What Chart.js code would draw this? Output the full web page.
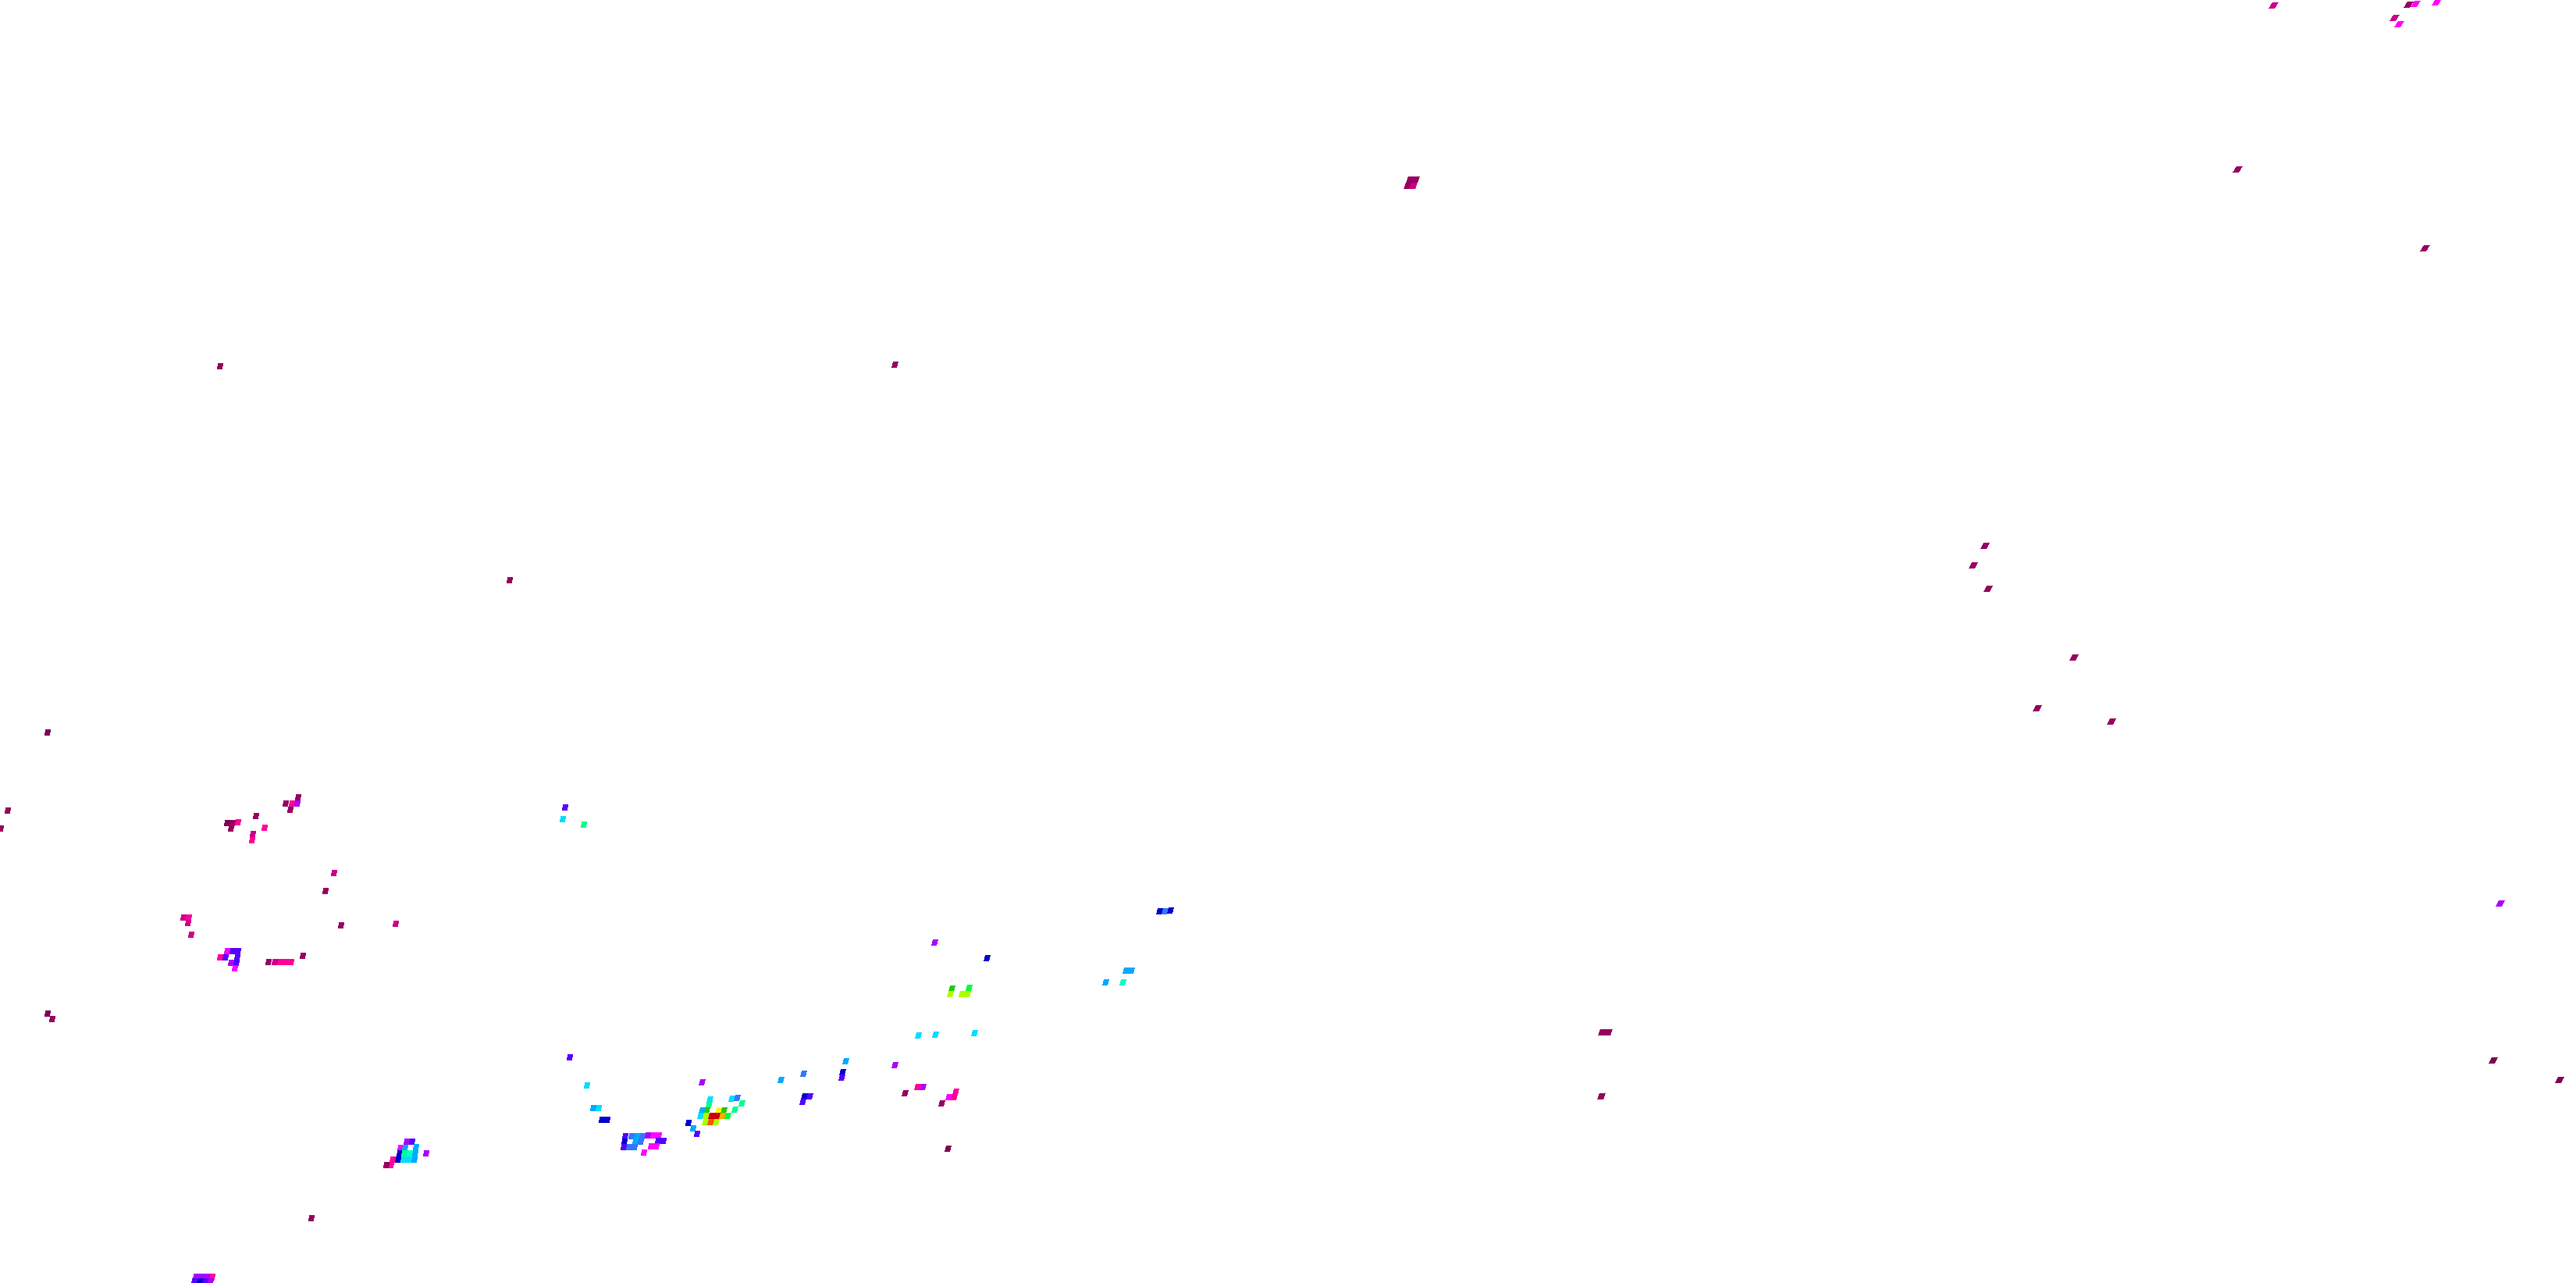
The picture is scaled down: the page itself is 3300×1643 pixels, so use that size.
<!DOCTYPE html>
<html>
<head>
<meta charset="utf-8">
<style>
  html, body { margin: 0; padding: 0; background: #fff; overflow: hidden; }
  canvas { display: block; }
</style>
<script src="https://cdn.jsdelivr.net/npm/chart.js@4/dist/chart.umd.min.js"></script>
</head>
<body>
<canvas id="chart" width="3300" height="1643"></canvas>
<script>
// colour steps of the count scale, low to high
const levelColors = ['#7f0055', '#96005f', '#cc0088', '#ff0099', '#ff00ff', '#aa00ff', '#5500ff', '#0000cc',
  '#3377ff', '#00aaff', '#00ddff', '#00ffcc', '#00ff88', '#00ff33', '#22cc00', '#aaff00', '#ffff00', '#ffaa00', '#ff5500', '#cc0000'];

const cellX = [
  2913, 3086, 3095, 3122, 3068, 3074, 2867, 3107,
  1807, 1814, 1804, 1811,
  282, 1147, 653,
  2543, 2528, 2547, 2657, 2610, 2705,
  61, 10, 1, 61, 67,
  382, 366, 374, 381, 372, 328, 291, 298, 305, 296, 339, 324, 323,
  721, 724, 748,
  3203,
  1486, 1493, 1500,
  428, 417, 437,
  235, 242, 241, 245, 507,
  291, 298, 305, 282, 289, 304, 296, 303, 301,
  388, 344, 352, 359, 366, 373,
  1198, 1265, 1220, 1218, 1242, 1233, 1240,
  1443, 1450, 1417, 1439,
  2053, 2061, 2052, 3194, 3279,
  1177, 1199, 1249, 1084, 1080, 1079, 1147, 1030, 1001,
  1031, 1038, 1029,
  730, 752, 760, 767, 771, 778,
  801, 809, 816, 823, 830, 837, 844,
  800, 814, 821, 843, 850,
  799, 806, 813, 834, 841, 825,
  900, 910, 909, 906, 900, 898, 905, 904,
  921, 928, 912, 919, 926, 933, 911, 918,
  942, 951, 938, 945, 882, 888, 893,
  1176, 1183, 1160, 1225, 1223, 1216, 1207, 1215,
  521, 528, 513, 519, 533, 512, 518, 525, 532, 510, 517, 524, 531, 503, 501, 495, 546,
  399, 251, 258, 265, 272, 249, 256, 263, 270
];
const cellY = [
  7, 6, 5, 3, 23, 31, 217, 318,
  230, 230, 238, 238,
  469, 467, 743,
  699, 724, 754, 842, 907, 924,
  938, 1038, 1061, 1298, 1305,
  1021, 1029, 1029, 1029, 1037, 1045, 1054, 1054, 1053, 1061, 1060, 1068, 1076,
  1049, 1034, 1056,
  1157,
  1167, 1167, 1166,
  1118, 1141, 1185,
  1175, 1175, 1182, 1197, 1183,
  1218, 1218, 1218, 1226, 1226, 1226, 1233, 1233, 1240,
  1224, 1232, 1232, 1232, 1232, 1232,
  1207, 1227, 1266, 1273, 1265, 1273, 1273,
  1243, 1243, 1258, 1258,
  1322, 1322, 1404, 1358, 1383,
  1326, 1325, 1323, 1359, 1373, 1380, 1364, 1375, 1383,
  1404, 1404, 1411,
  1354, 1390, 1419, 1419, 1434, 1434,
  1455, 1455, 1455, 1455, 1454, 1454, 1454,
  1462, 1462, 1462, 1461, 1461,
  1469, 1469, 1469, 1468, 1468, 1476,
  1386, 1408, 1414, 1422, 1422, 1429, 1429, 1437,
  1422, 1422, 1429, 1429, 1429, 1429, 1437, 1437,
  1421, 1413, 1407, 1406, 1438, 1445, 1452,
  1392, 1392, 1400, 1398, 1405, 1405, 1413, 1471,
  1462, 1462, 1470, 1470, 1469, 1477, 1477, 1477, 1477, 1485, 1485, 1485, 1485, 1485, 1492, 1492, 1477,
  1560, 1635, 1635, 1635, 1635, 1641, 1641, 1641, 1641
];
const cellLevel = [
  2, 1, 4, 4, 2, 4, 1, 1,
  1, 1, 1, 2,
  1, 1, 1,
  1, 1, 1, 1, 1, 1,
  0, 1, 1, 0, 1,
  1, 1, 3, 5, 1, 1, 0, 1, 3, 1, 3, 2, 3,
  10, 6, 12,
  5,
  7, 8, 7,
  2, 1, 1,
  2, 3, 2, 2, 2,
  4, 6, 6, 3, 6, 6, 5, 6, 4,
  1, 1, 2, 3, 3, 3,
  5, 7, 14, 15, 13, 15, 15,
  9, 9, 9, 11,
  1, 1, 1, 0, 0,
  10, 10, 10, 9, 7, 6, 5, 8, 9,
  7, 6, 6,
  6, 10, 9, 10, 7, 7,
  6, 8, 9, 8, 5, 4, 4,
  7, 9, 8, 6, 6,
  6, 8, 8, 4, 4, 4,
  5, 10, 12, 14, 9, 10, 15, 15,
  16, 14, 19, 19, 17, 13, 18, 15,
  12, 12, 10, 8, 7, 9, 6,
  3, 5, 1, 3, 3, 4, 1, 0,
  5, 6, 4, 9, 9, 7, 12, 11, 9, 7, 10, 10, 9, 3, 3, 1, 5,
  1, 5, 5, 5, 3, 6, 7, 6, 5
];

// cells lean more to the right and to the top of the picture
const cellH = 8;
const styleCache = {};

function cellSkew(x, y) {
  return Math.round(0.5 + 0.00105 * x + 0.001 * (1643 - y) * x / 3300);
}

function cellStyle(ctx) {
  const p = ctx.raw;
  if (!p) return 'rect';
  const skew = cellSkew(p.x, p.y);
  const w = p.x > 1500 ? 8 : 7;
  const key = levelColors[p.level] + '/' + skew + '/' + w;
  if (styleCache[key]) return styleCache[key];
  const c = document.createElement('canvas');
  c.width = Math.ceil((w + skew) / 2) * 2;
  c.height = cellH;
  const g = c.getContext('2d');
  g.fillStyle = levelColors[p.level];
  // hard stepped edge, no smoothing
  for (let row = 0; row < cellH; row++) {
    g.fillRect(Math.round(skew * (1 - (row + 0.5) / cellH)), row, w, 1);
  }
  styleCache[key] = c;
  return c;
}

new Chart(document.getElementById('chart').getContext('2d'), {
  type: 'scatter',
  data: {
    datasets: [{
      data: cellX.map((x, i) => ({ x: x, y: cellY[i], level: cellLevel[i] })),
      pointStyle: cellStyle,
      pointRadius: 4,
      pointHoverRadius: 4,
      clip: false
    }]
  },
  options: {
    responsive: false,
    devicePixelRatio: 1,
    animation: false,
    layout: { padding: 0, autoPadding: false },
    plugins: { legend: { display: false }, tooltip: { enabled: false }, title: { display: false } },
    scales: {
      x: { type: 'linear', display: false, min: 0, max: 3300 },
      y: { type: 'linear', display: false, reverse: true, min: 0, max: 1643 }
    }
  }
});
</script>
</body>
</html>
